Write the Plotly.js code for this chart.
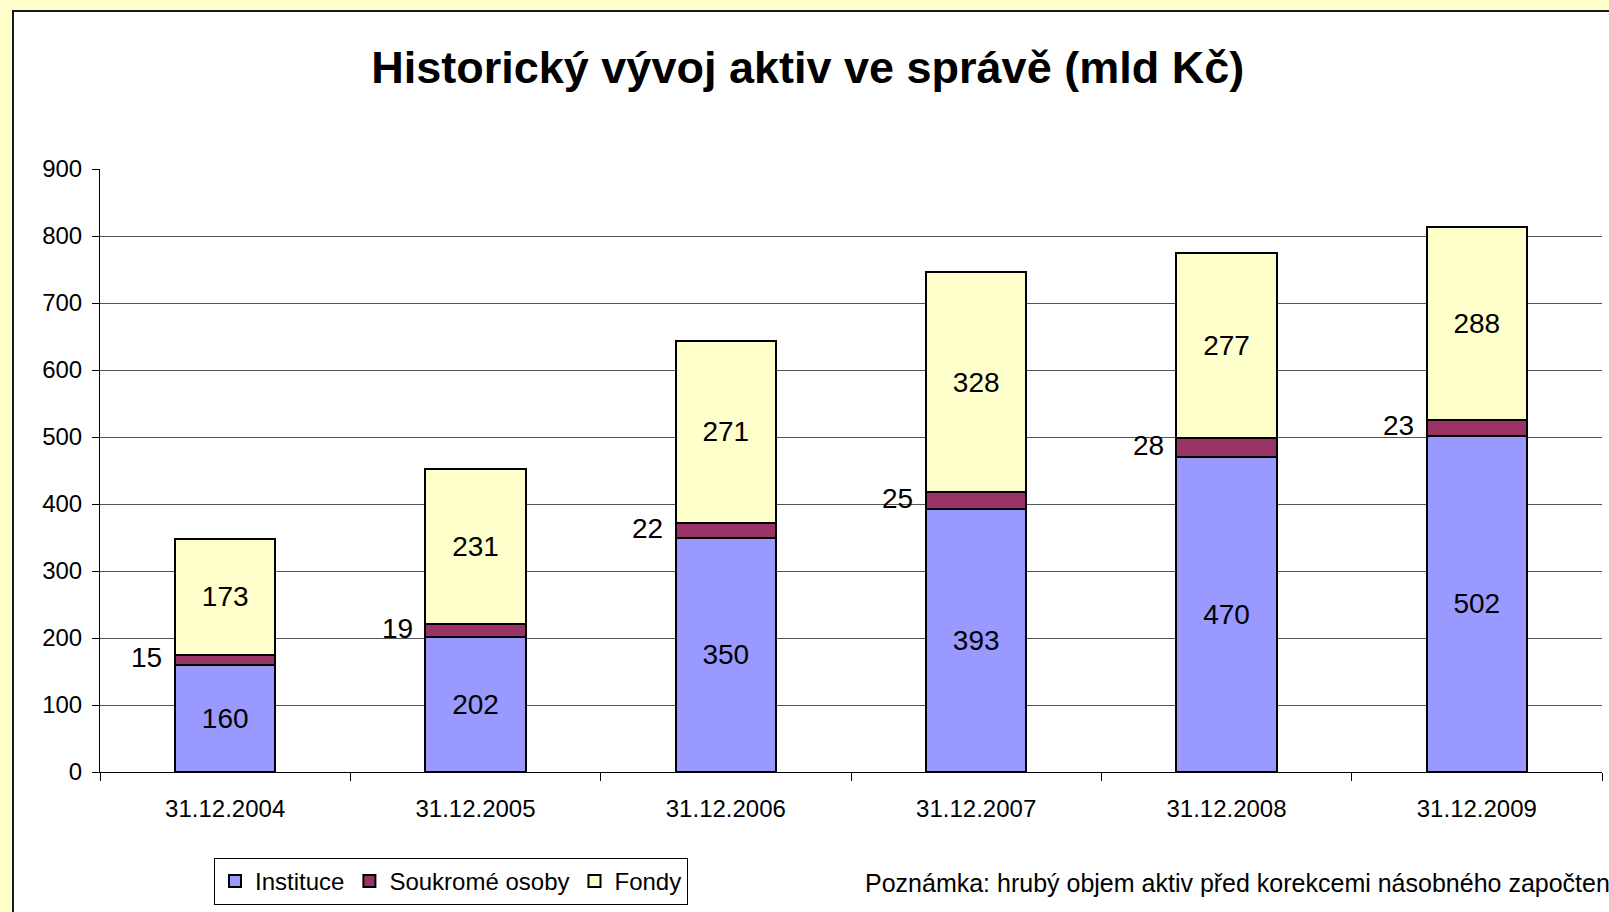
<!DOCTYPE html>
<html>
<head>
<meta charset="utf-8">
<script src="https://cdn.plot.ly/plotly-3.0.1.min.js"></script>
<style>
  html, body { margin: 0; padding: 0; width: 1609px; height: 912px; overflow: hidden; background: #FFFFCC; }
  #panel { position: absolute; left: 12px; top: 10px; width: 1597px; height: 902px; background: #ffffff;
           border-left: 2px solid #1a1a1a; border-top: 2px solid #1a1a1a; box-sizing: border-box; }
  #chart { position: absolute; left: 0; top: 0; width: 1609px; height: 912px; }
</style>
</head>
<body>
<div id="panel"></div>
<div id="chart"></div>
<script>
// ---- data ----
const categories = ["31.12.2004", "31.12.2005", "31.12.2006", "31.12.2007", "31.12.2008", "31.12.2009"];
const instituce = [160, 202, 350, 393, 470, 502];
const soukromeOsoby = [15, 19, 22, 25, 28, 23];
const fondy = [173, 231, 271, 328, 277, 288];
const seriesNames = ["Instituce", "Soukromé osoby", "Fondy"];
const titleText = "Historický vývoj aktiv ve správě (mld Kč)";
const noteText = "Poznámka: hrubý objem aktiv před korekcemi násobného započtení";

const FONT = "Liberation Sans, Arial, sans-serif";
const barLine = { color: "#000000", width: 2 };

const traces = [
  {
    type: "bar", name: seriesNames[0], x: categories, y: instituce,
    marker: { color: "#9999FF", line: barLine },
    texttemplate: "%{y}", textposition: "inside", insidetextanchor: "middle",
    constraintext: "none", textfont: { size: 28, color: "#000000", family: FONT },
    hoverinfo: "skip"
  },
  {
    type: "bar", name: seriesNames[1], x: categories, y: soukromeOsoby,
    marker: { color: "#993366", line: barLine },
    textposition: "none", hoverinfo: "skip"
  },
  {
    type: "bar", name: seriesNames[2], x: categories, y: fondy,
    marker: { color: "#FFFFCC", line: barLine },
    texttemplate: "%{y}", textposition: "inside", insidetextanchor: "middle",
    constraintext: "none", textfont: { size: 28, color: "#000000", family: FONT },
    hoverinfo: "skip"
  }
];

// labels for the small middle series, placed left of each bar
const annotations = categories.map((c, i) => ({
  x: c, y: instituce[i] + soukromeOsoby[i] / 2,
  xref: "x", yref: "y",
  text: String(soukromeOsoby[i]),
  showarrow: false, xanchor: "right", yanchor: "middle", xshift: -61, yshift: 2,
  font: { size: 28, color: "#000000", family: FONT }
}));

annotations.push({
  xref: "paper", yref: "paper", x: 0.5080, y: -0.184,
  xanchor: "left", yanchor: "middle", showarrow: false,
  text: noteText, font: { size: 25, color: "#000000", family: FONT }
});

const layout = {
  width: 1609, height: 912,
  paper_bgcolor: "rgba(0,0,0,0)", plot_bgcolor: "rgba(0,0,0,0)",
  margin: { l: 100, r: 7, t: 169, b: 140, pad: 0 },
  barmode: "stack", bargap: 0.6,
  title: {
    text: "<b>" + titleText + "</b>",
    font: { size: 45, color: "#000000", family: FONT },
    x: 0.502, xref: "container", xanchor: "center",
    y: 0.9265, yref: "container", yanchor: "middle"
  },
  xaxis: {
    type: "category", tickson: "boundaries", ticks: "outside", ticklen: 8, tickcolor: "#000000",
    showline: true, linecolor: "#000000", linewidth: 1, showgrid: false,
    tickfont: { size: 24, color: "#000000", family: FONT }, ticklabelstandoff: 15
  },
  yaxis: {
    range: [0, 900], dtick: 100, ticks: "outside", ticklen: 7, tickcolor: "#000000",
    showline: true, linecolor: "#000000", linewidth: 1,
    showgrid: true, gridcolor: "#555555", gridwidth: 1, zeroline: false,
    tickfont: { size: 24, color: "#000000", family: FONT }, ticklabelstandoff: 5
  },
  showlegend: true,
  legend: {
    orientation: "h", traceorder: "normal",
    x: 0.0759, xanchor: "left", y: -0.1426, yanchor: "top",
    bordercolor: "#000000", borderwidth: 1, bgcolor: "#ffffff",
    font: { size: 24, color: "#000000", family: FONT }
  },
  annotations: annotations
};

Plotly.newPlot("chart", traces, layout, { staticPlot: true, displayModeBar: false });
</script>
</body>
</html>
